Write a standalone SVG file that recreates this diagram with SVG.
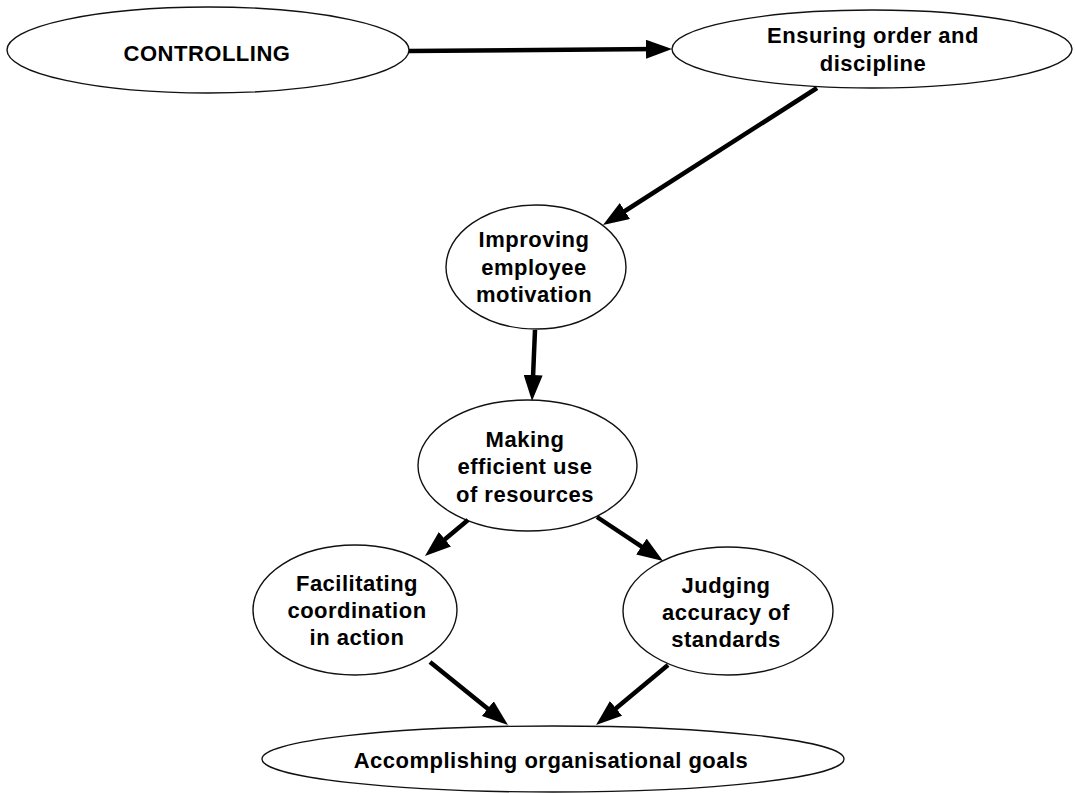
<svg xmlns="http://www.w3.org/2000/svg" width="1075" height="793" viewBox="0 0 1075 793">
<style>
  .node ellipse { fill: #ffffff; stroke: #111111; stroke-width: 1.4; }
  .node text { font-family: "Liberation Sans", Arial, sans-serif; font-weight: bold; font-size: 22px; letter-spacing: 0.5px; fill: #000000; text-anchor: middle; }
  .edge { stroke: #000000; stroke-width: 4.5; fill: none; marker-end: url(#ah); }
</style>
<defs>
  <marker id="ah" markerUnits="userSpaceOnUse" markerWidth="26" markerHeight="19" refX="12" refY="9.5" orient="auto" viewBox="0 0 26 19">
    <path d="M0,0 L26,9.5 L0,19 Z" fill="#000000"/>
  </marker>
</defs>
<rect x="0" y="0" width="1075" height="793" fill="#ffffff"/>

<g id="n-controlling" class="node">
  <ellipse cx="208" cy="50" rx="201" ry="43"/>
  <text x="207" y="61">CONTROLLING</text>
</g>
<g id="n-ensuring" class="node">
  <ellipse cx="872" cy="49" rx="200" ry="39"/>
  <text x="873" y="43">Ensuring order and</text>
  <text x="873" y="71">discipline</text>
</g>
<g id="n-improving" class="node">
  <ellipse cx="536" cy="267" rx="90" ry="62"/>
  <text x="534" y="247">Improving</text>
  <text x="534" y="275">employee</text>
  <text x="534" y="302">motivation</text>
</g>
<g id="n-making" class="node">
  <ellipse cx="527.5" cy="465.5" rx="109.5" ry="65.5"/>
  <text x="525" y="447">Making</text>
  <text x="525" y="474">efficient use</text>
  <text x="525" y="502">of resources</text>
</g>
<g id="n-facilitating" class="node">
  <ellipse cx="355" cy="610" rx="102" ry="65"/>
  <text x="357" y="591">Facilitating</text>
  <text x="357" y="618">coordination</text>
  <text x="357" y="645">in action</text>
</g>
<g id="n-judging" class="node">
  <ellipse cx="728" cy="611" rx="105" ry="64"/>
  <text x="726" y="593">Judging</text>
  <text x="726" y="620">accuracy of</text>
  <text x="726" y="647">standards</text>
</g>
<g id="n-accomplishing" class="node">
  <ellipse cx="553" cy="759" rx="291" ry="33"/>
  <text x="551" y="768">Accomplishing organisational goals</text>
</g>

<g id="connectors">
  <line class="edge" x1="409" y1="51" x2="658" y2="49.1"/>
  <line class="edge" x1="817" y1="88" x2="614.8" y2="217.5"/>
  <line class="edge" x1="535" y1="330" x2="532.6" y2="387"/>
  <line class="edge" x1="468" y1="520" x2="435.7" y2="547"/>
  <line class="edge" x1="597" y1="517" x2="651.4" y2="553.2"/>
  <line class="edge" x1="430" y1="662" x2="497.1" y2="716.2"/>
  <line class="edge" x1="668" y1="665" x2="606.8" y2="716"/>
</g>
</svg>
